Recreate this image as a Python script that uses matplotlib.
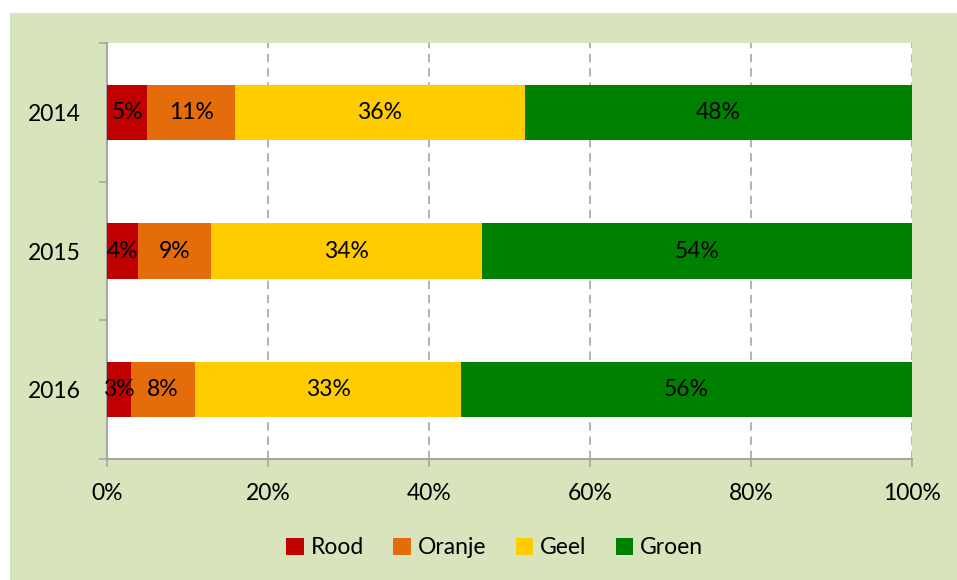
import numpy as np
import matplotlib
matplotlib.use("Agg")
import matplotlib.pyplot as plt
from matplotlib.patches import Rectangle, Patch

plt.rcParams["font.family"] = ["Lato", "DejaVu Sans"]

YEARS = ["2014", "2015", "2016"]
SERIES = ["Rood", "Oranje", "Geel", "Groen"]
COLORS = ["#C00000", "#E46C0A", "#FFCC00", "#008000"]
# share per category (%)
VALUES = {
    "Rood":   [5.0, 3.9, 3.0],
    "Oranje": [10.9, 9.0, 7.9],
    "Geel":   [36.0, 33.7, 33.1],
    "Groen":  [48.1, 53.4, 56.0],
}
LABELS = {
    "Rood":   ["5%", "4%", "3%"],
    "Oranje": ["11%", "9%", "8%"],
    "Geel":   ["36%", "34%", "33%"],
    "Groen":  ["48%", "54%", "56%"],
}
XTICKS = [0, 20, 40, 60, 80, 100]
BG = "#D8E4BC"
GRID = "#A6A6A6"
FS = 16.5

W, H = 957, 580
fig = plt.figure(figsize=(W / 100, H / 100), dpi=100)
fig.patch.set_facecolor("white")
fig.patches.append(Rectangle((10 / W, 0), 1, (H - 13) / H, transform=fig.transFigure,
                             facecolor=BG, edgecolor="none", zorder=-5))

ax = fig.add_axes([107 / W, 1 - 459 / H, (912 - 107) / W, (459 - 43) / H])
ax.set_facecolor("white")

y = np.arange(len(YEARS))
left = np.zeros(len(YEARS))
for name, col in zip(SERIES, COLORS):
    vals = np.array(VALUES[name])
    ax.barh(y, vals, left=left, height=0.4, color=col, edgecolor="none", zorder=3)
    for yi, l, v, txt in zip(y, left, vals, LABELS[name]):
        ax.text(l + v / 2, yi, txt, ha="center", va="center", fontsize=FS,
                color="black", zorder=4)
    left += vals

ax.set_xlim(0, 100)
ax.set_ylim(len(YEARS) - 0.5, -0.5)
ax.set_xticks(XTICKS)
ax.set_xticklabels([f"{t}%" for t in XTICKS])
ax.set_yticks(y)
ax.set_yticklabels(YEARS)
ax.set_yticks(np.arange(-0.5, len(YEARS)), minor=True)

ax.grid(axis="x", linestyle=(0, (5, 3.5)), color=GRID, linewidth=1.2, zorder=1)
for s in ["top", "right"]:
    ax.spines[s].set_visible(False)
for s in ["left", "bottom"]:
    ax.spines[s].set_color(GRID)
    ax.spines[s].set_linewidth(1.5)

ax.tick_params(axis="x", length=6, width=1.2, color=GRID, pad=11, labelsize=FS)
ax.tick_params(axis="y", which="major", length=0, pad=19, labelsize=FS)
ax.tick_params(axis="y", which="minor", length=6, width=1.2, color=GRID)

handles = [Patch(facecolor=c, edgecolor="none") for c in COLORS]
fig.legend(handles, SERIES, loc="center", bbox_to_anchor=(0.517, 1 - 548 / H),
           ncol=4, frameon=False, fontsize=FS, handlelength=0.75, handleheight=0.75,
           handletextpad=0.3, columnspacing=1.3)

fig.savefig("out.png", dpi=100)
